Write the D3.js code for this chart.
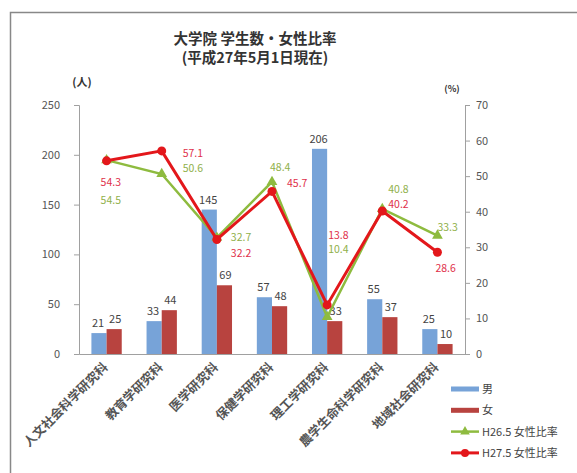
<!DOCTYPE html>
<html>
<head>
<meta charset="utf-8">
<script src="https://cdn.jsdelivr.net/npm/d3@7"></script>
<style>
  body { margin: 0; background: #fff; }
  svg text { font-family: "Noto Sans CJK JP", "Noto Sans", sans-serif; }
  .axis path, .axis line { stroke: #a0a0a0; }
  .axis text { fill: #555; font-size: 11px; }
</style>
</head>
<body>
<svg id="myGraph" width="577" height="473"></svg>
<script>
// 데이터
var categories = ["人文社会科学研究科", "教育学研究科", "医学研究科", "保健学研究科", "理工学研究科", "農学生命科学研究科", "地域社会研究科"];
var male = [21, 33, 145, 57, 206, 55, 25];
var female = [25, 44, 69, 48, 33, 37, 10];
var ratioH26 = [54.5, 50.6, 32.7, 48.4, 10.4, 40.8, 33.3];
var ratioH27 = [54.3, 57.1, 32.2, 45.7, 13.8, 40.2, 28.6];
var leftTicks = [0, 50, 100, 150, 200, 250];
var rightTicks = [0, 10, 20, 30, 40, 50, 60, 70];
var seriesNames = ["男", "女", "H26.5 女性比率", "H27.5 女性比率"];

// 라벨 위치 (점 기준 오프셋)
var labelH27 = [[-6, 25], [21, 6], [14, 18], [15, -4], [1, -66], [6, -3], [-2, 20]];
var labelH26 = [[-6, 44], [21, -2], [14, 3], [-2, -11], [1, -64], [6, -16], [0, -5]];

var svg = d3.select("#myGraph");
var plotL = 79, plotR = 465, plotT = 105, plotB = 354;

// 바깥 테두리
svg.append("path").attr("d", "M10.5,480 V12.5 H580")
   .attr("fill", "none").attr("stroke", "#888").attr("stroke-width", 1.5);

// 제목
svg.append("text").attr("x", 255).attr("y", 44).attr("text-anchor", "middle")
   .attr("font-size", 14.5).attr("font-weight", "bold").attr("fill", "#333")
   .text("大学院 学生数・女性比率");
svg.append("text").attr("x", 255).attr("y", 63).attr("text-anchor", "middle")
   .attr("font-size", 14.5).attr("font-weight", "bold").attr("fill", "#333")
   .text("(平成27年5月1日現在)");

// 스케일
var x0 = d3.scaleBand().domain(categories).range([plotL, plotR]).paddingInner(0.45).paddingOuter(0.225);
var x1 = d3.scaleBand().domain(["m", "f"]).range([0, x0.bandwidth()]);
var yL = d3.scaleLinear().domain([0, 250]).range([plotB, plotT]);
var yR = d3.scaleLinear().domain([0, 70]).range([plotB, plotT]);
var cx = function(i){ return x0(categories[i]) + x0.bandwidth() / 2; };

// 축
svg.append("g").attr("class", "axis").attr("transform", "translate(" + plotL + ",0)")
   .call(d3.axisLeft(yL).tickValues(leftTicks).tickSize(5).tickPadding(14));
svg.append("g").attr("class", "axis").attr("transform", "translate(" + plotR + ",0)")
   .call(d3.axisRight(yR).tickValues(rightTicks).tickSize(5).tickPadding(6));
svg.append("g").attr("class", "axis").attr("transform", "translate(0," + plotB + ")")
   .call(d3.axisBottom(x0).tickSize(0).tickFormat(""));

svg.append("text").attr("x", 82).attr("y", 86).attr("text-anchor", "middle")
   .attr("font-size", 11).attr("font-weight", "bold").attr("fill", "#333").text("(人)");
svg.append("text").attr("x", 452).attr("y", 92).attr("text-anchor", "middle")
   .attr("font-size", 9).attr("font-weight", "bold").attr("fill", "#333").text("(%)");

// 카테고리 라벨
svg.append("g").selectAll("text").data(categories).enter().append("text")
   .attr("transform", function(d, i){ return "translate(" + (cx(i) + 2) + "," + (plotB + 14) + ") rotate(-45)"; })
   .attr("text-anchor", "end").attr("font-size", 12.5).attr("font-weight", "bold").attr("fill", "#555")
   .text(function(d){ return d; });

// 막대
var barColors = { m: "#77a3d8", f: "#b8433f" };
var groups = svg.append("g").selectAll("g").data(categories).enter().append("g")
   .attr("transform", function(d){ return "translate(" + x0(d) + ",0)"; });
groups.append("rect").attr("x", x1("m")).attr("width", x1.bandwidth())
   .attr("y", function(d, i){ return yL(male[i]); })
   .attr("height", function(d, i){ return plotB - yL(male[i]); })
   .attr("fill", barColors.m);
groups.append("rect").attr("x", x1("f")).attr("width", x1.bandwidth())
   .attr("y", function(d, i){ return yL(female[i]); })
   .attr("height", function(d, i){ return plotB - yL(female[i]); })
   .attr("fill", barColors.f);
groups.append("text").attr("x", x1("m") + x1.bandwidth() / 2 - 1)
   .attr("y", function(d, i){ return yL(male[i]) - 6; })
   .attr("text-anchor", "middle").attr("font-size", 11).attr("fill", "#444")
   .text(function(d, i){ return male[i]; });
groups.append("text").attr("x", x1("f") + x1.bandwidth() / 2 + 1)
   .attr("y", function(d, i){ return yL(female[i]) - 6; })
   .attr("text-anchor", "middle").attr("font-size", 11).attr("fill", "#444")
   .text(function(d, i){ return female[i]; });

// 선
var line = d3.line().x(function(d, i){ return cx(i); }).y(function(d){ return yR(d); });
svg.append("path").datum(ratioH26).attr("d", line).attr("fill", "none")
   .attr("stroke", "#8ebb3f").attr("stroke-width", 2.5);
svg.append("g").selectAll("path").data(ratioH26).enter().append("path")
   .attr("d", d3.symbol().type(d3.symbolTriangle).size(50))
   .attr("transform", function(d, i){ return "translate(" + cx(i) + "," + yR(d) + ")"; })
   .attr("fill", "#8ebb3f");
svg.append("path").datum(ratioH27).attr("d", line).attr("fill", "none")
   .attr("stroke", "#e3171b").attr("stroke-width", 3);
svg.append("g").selectAll("circle").data(ratioH27).enter().append("circle")
   .attr("cx", function(d, i){ return cx(i); }).attr("cy", function(d){ return yR(d); })
   .attr("r", 4.5).attr("fill", "#e3171b");

// 선 라벨
svg.append("g").selectAll("text").data(ratioH27).enter().append("text")
   .attr("x", function(d, i){ return cx(i) + labelH27[i][0]; })
   .attr("y", function(d, i){ return yR(d) + labelH27[i][1]; })
   .attr("font-size", 10.5).attr("fill", "#e0304a")
   .text(function(d){ return d.toFixed(1); });
svg.append("g").selectAll("text").data(ratioH26).enter().append("text")
   .attr("x", function(d, i){ return cx(i) + labelH26[i][0]; })
   .attr("y", function(d, i){ return yR(d) + labelH26[i][1]; })
   .attr("font-size", 10.5).attr("fill", "#8fb04a")
   .text(function(d){ return d.toFixed(1); });

// 범례
var legend = svg.append("g").attr("transform", "translate(451,389)");
var lg = legend.selectAll("g").data(seriesNames).enter().append("g")
   .attr("transform", function(d, i){ return "translate(0," + (i * 21.3) + ")"; });
lg.each(function(d, i){
  var g = d3.select(this);
  if (i < 2) {
    g.append("rect").attr("x", 0).attr("y", -2.5).attr("width", 28).attr("height", 5)
     .attr("fill", i == 0 ? barColors.m : barColors.f);
  } else {
    var c = i == 2 ? "#8ebb3f" : "#e3171b";
    g.append("line").attr("x1", 0).attr("x2", 28).attr("stroke", c).attr("stroke-width", i == 2 ? 2.5 : 3);
    if (i == 2) g.append("path").attr("d", d3.symbol().type(d3.symbolTriangle).size(40)).attr("transform", "translate(14,0)").attr("fill", c);
    else g.append("circle").attr("cx", 14).attr("r", 4).attr("fill", c);
  }
  g.append("text").attr("x", 31).attr("y", 4).attr("font-size", 11).attr("fill", "#444").text(d);
});
</script>
</body>
</html>
